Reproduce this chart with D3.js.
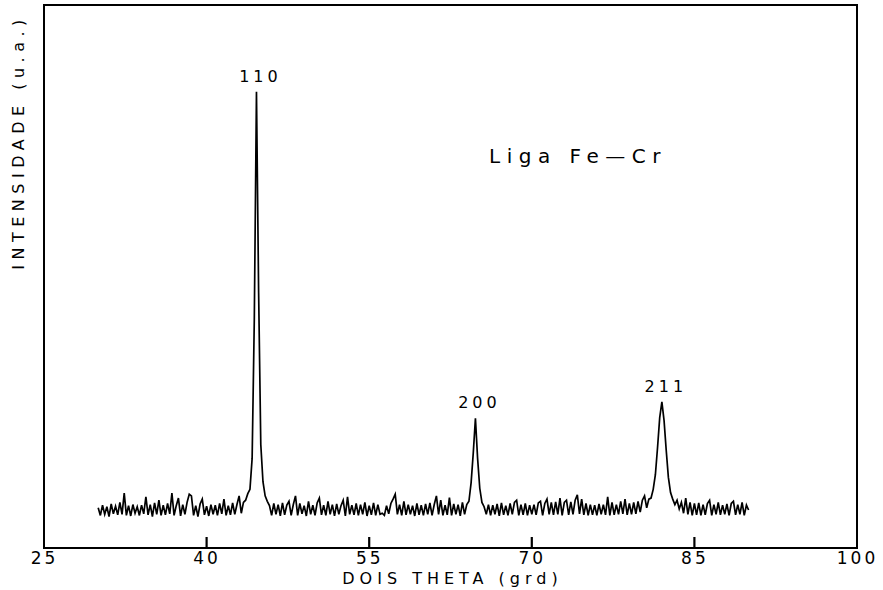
<html>
<head>
<script src="https://d3js.org/d3.v7.min.js"></script>
<style>
  body { margin: 0; background: #fff; }
  text { font-family: "DejaVu Sans", sans-serif; fill: #000; }
</style>
</head>
<body>
<svg class="chart" width="883" height="590"></svg>
<script>
// XRD scan, start angle and step (degrees 2-theta), intensity in counts (arbitrary)
var startAngle = 30.0;
var stepAngle = 0.2;
var counts = [
  74, 60, 79, 62, 76, 58, 81, 63, 77, 61,
  84, 62, 101, 60, 78, 59, 80, 64, 76, 60,
  79, 63, 94, 61, 80, 58, 83, 62, 88, 60,
  79, 61, 82, 63, 101, 60, 78, 92, 59, 80,
  62, 84, 99, 96, 60, 78, 58, 81, 90, 61,
  77, 59, 80, 62, 79, 60, 82, 63, 90, 60,
  78, 61, 83, 62, 80, 96, 64, 84, 88, 100,
  108, 165, 420, 840, 470, 190, 122, 96, 86, 78,
  60, 82, 62, 80, 59, 83, 61, 79, 86, 60,
  80, 96, 60, 82, 63, 78, 59, 86, 62, 79,
  60, 83, 92, 61, 79, 60, 86, 62, 80, 59,
  81, 62, 78, 88, 59, 94, 62, 79, 61, 82,
  60, 80, 62, 84, 59, 78, 61, 83, 60, 80,
  62, 64, 60, 78, 63, 82, 90, 99, 62, 80,
  60, 86, 61, 80, 62, 78, 59, 82, 61, 79,
  60, 81, 62, 83, 60, 80, 96, 62, 88, 60,
  79, 61, 93, 60, 81, 62, 80, 59, 84, 62,
  80, 86, 120, 175, 239, 165, 110, 84, 76, 62,
  80, 60, 79, 62, 81, 59, 83, 61, 78, 60,
  82, 62, 84, 88, 60, 80, 61, 82, 60, 79,
  62, 80, 61, 83, 86, 60, 82, 90, 62, 84,
  61, 85, 62, 92, 60, 84, 88, 61, 85, 62,
  88, 98, 63, 90, 61, 82, 60, 80, 61, 79,
  60, 81, 62, 80, 61, 94, 60, 84, 61, 80,
  62, 86, 63, 90, 61, 82, 62, 84, 63, 86,
  66, 88, 96, 74, 90, 92, 108, 135, 185, 240,
  269, 235, 180, 130, 102, 90, 80, 88, 72, 84,
  64, 92, 62, 84, 60, 82, 61, 83, 60, 80,
  61, 82, 88, 60, 80, 62, 84, 61, 79, 62,
  81, 60, 82, 86, 61, 80, 62, 84, 60, 79,
  70
];
var xTicks = [25, 40, 55, 70, 85, 100];
var peakLabels = ["110", "200", "211"];
var peakAngles = [44.6, 64.8, 82.0];
var peakHeights = [840, 239, 269];

var svg = d3.select("svg");
var margin = {left: 44, right: 26, top: 5, bottom: 42};
var width = 883 - margin.left - margin.right;
var height = 590 - margin.top - margin.bottom;

var g = svg.append("g").attr("transform", "translate(" + margin.left + "," + margin.top + ")");

var xScale = d3.scaleLinear().domain([25, 100]).range([0, width]);
var yScale = d3.scaleLinear().domain([0, 1000]).range([height, 0]);

var data = counts.map((c, i) => ({angle: startAngle + i * stepAngle, count: c}));

var line = d3.line()
  .x(d => xScale(d.angle))
  .y(d => yScale(d.count));

g.append("path")
  .datum(data)
  .attr("d", line)
  .attr("fill", "none")
  .attr("stroke", "#000")
  .attr("stroke-width", 1.7)
  .attr("stroke-linejoin", "miter");

// frame
g.append("rect")
  .attr("width", width)
  .attr("height", height)
  .attr("fill", "none")
  .attr("stroke", "#000")
  .attr("stroke-width", 2);

// tick labels from the axis generator
var xAxis = d3.axisBottom(xScale)
  .tickValues(xTicks)
  .tickSize(0)
  .tickPadding(4);

var ax = g.append("g").attr("transform", "translate(0," + height + ")").call(xAxis);
ax.select(".domain").remove();
ax.selectAll(".tick text")
  .style("font-size", "17px")
  .style("letter-spacing", "3px")
  .style("font-family", "'DejaVu Sans', sans-serif");

// inward tick marks, on top of everything
svg.append("g")
  .attr("class", "tickmarks")
  .selectAll("path")
  .data(xTicks.slice(1, -1))
  .join("path")
  .attr("d", d => "M" + (margin.left + xScale(d)) + "," + (margin.top + height) + "v-11")
  .attr("stroke", "#000")
  .attr("stroke-width", 2.2)
  .attr("fill", "none");

svg.append("text")
  .attr("x", margin.left + width / 2 + 2)
  .attr("y", 584)
  .attr("text-anchor", "middle")
  .style("font-size", "16px")
  .style("letter-spacing", "5px")
  .text("DOIS THETA (grd)");

svg.append("text")
  .attr("transform", "translate(24,142) rotate(-90)")
  .attr("text-anchor", "middle")
  .style("font-size", "16px")
  .style("letter-spacing", "5.5px")
  .text("INTENSIDADE (u.a.)");

g.selectAll(".peak")
  .data(peakLabels)
  .enter()
  .append("text")
  .attr("class", "peak")
  .attr("x", (d, i) => xScale(peakAngles[i]) + 4)
  .attr("y", (d, i) => yScale(peakHeights[i]) - 10)
  .attr("text-anchor", "middle")
  .style("font-size", "16px")
  .style("letter-spacing", "4px")
  .text(d => d);

svg.append("text")
  .attr("x", 578)
  .attr("y", 163)
  .attr("text-anchor", "middle")
  .style("font-size", "20px")
  .style("letter-spacing", "6.5px")
  .text("Liga  Fe\u2014Cr");
</script>
</body>
</html>
